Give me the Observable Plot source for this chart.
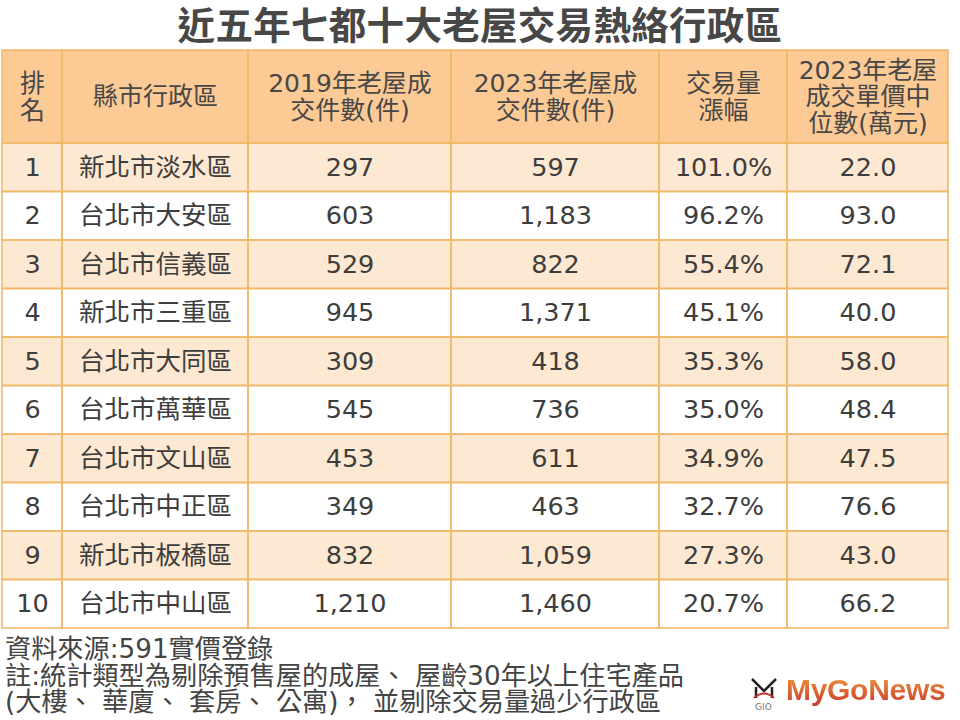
<!DOCTYPE html>
<html>
<head>
<meta charset="utf-8">
<script src="https://cdn.jsdelivr.net/npm/d3@7"></script>
<script src="https://cdn.jsdelivr.net/npm/@observablehq/plot@0.6"></script>
<style>
  html, body { margin: 0; padding: 0; background: #fff; width: 960px; height: 720px; overflow: hidden; }
  body { font-family: "DejaVu Sans", "Noto Sans CJK TC", sans-serif; position: relative; }
  #title { height: 47px; padding-top: 3px; text-align: center; font-size: 37.5px; font-weight: 700; color: #474747; letter-spacing: 0.3px; font-family: "Noto Sans CJK TC", sans-serif; line-height: 40px; }
  #title span { display: inline-block; height: 40px; line-height: 40px; }
  #chart svg { display: block; }
  #foot { margin-top: 6px; padding-left: 5px; font-size: 26.2px; line-height: 26.5px; color: #444; white-space: pre; }
  #logo { position: absolute; left: 786px; top: 673px; font-size: 30px; font-weight: 700; font-family: "Liberation Sans", sans-serif; letter-spacing: -0.3px;
          background: linear-gradient(#f0a040, #c8342a); -webkit-background-clip: text; background-clip: text; color: transparent; }
  #icon { position: absolute; left: 748px; top: 674px; }
</style>
</head>
<body>
<div id="title"><span>近五年七都十大老屋交易熱絡行政區</span></div>
<div id="chart"></div>
<div id="foot">資料來源:591實價登錄
註:統計類型為剔除預售屋的成屋、 屋齡30年以上住宅產品
(大樓、 華廈、 套房、 公寓)， 並剔除交易量過少行政區</div>
<div id="icon"><svg width="32" height="40" viewBox="0 0 32 40"><path d="M4 5 L16 17 L28 5 M8 13 L8 24 M24 13 L24 24" stroke="#222" stroke-width="2.5" fill="none"/><path d="M6 24 Q16 15 26 24" stroke="#c8342a" stroke-width="2" fill="none"/><text x="7" y="36" font-size="9" fill="#777" font-family="DejaVu Sans">GIO</text></svg></div>
<div id="logo">MyGoNews</div>
<script>
// ---- data ----
const headers = ["排\n名", "縣市行政區", "2019年老屋成\n交件數(件)", "2023年老屋成\n交件數(件)", "交易量\n漲幅", "2023年老屋\n成交單價中\n位數(萬元)"];
const ranks = [1, 2, 3, 4, 5, 6, 7, 8, 9, 10];
const districts = ["新北市淡水區", "台北市大安區", "台北市信義區", "新北市三重區", "台北市大同區", "台北市萬華區", "台北市文山區", "台北市中正區", "新北市板橋區", "台北市中山區"];
const count2019 = [297, 603, 529, 945, 309, 545, 453, 349, 832, 1210];
const count2023 = [597, 1183, 822, 1371, 418, 736, 611, 463, 1059, 1460];
const growth = [101.0, 96.2, 55.4, 45.1, 35.3, 35.0, 34.9, 32.7, 27.3, 20.7];
const medianPrice = [22.0, 93.0, 72.1, 40.0, 58.0, 48.4, 47.5, 76.6, 43.0, 66.2];

// ---- layout (table geometry in layout units) ----
const colWidths = [60, 186, 203, 208, 128, 161];
const headerH = 93, rowH = 48.5;

const colEdges = [0];
colWidths.forEach(w => colEdges.push(colEdges[colEdges.length - 1] + w));
const totalW = colEdges[colEdges.length - 1];
const totalH = headerH + rowH * ranks.length;

const fmtInt = d3.format(",");
const rowTexts = ranks.map((r, i) => [
  String(r), districts[i], fmtInt(count2019[i]), fmtInt(count2023[i]),
  growth[i].toFixed(1) + "%", medianPrice[i].toFixed(1)
]);

const cells = [];
headers.forEach((h, c) => cells.push({
  x1: colEdges[c], x2: colEdges[c + 1], y1: 0, y2: headerH, text: h, kind: "head"
}));
rowTexts.forEach((row, i) => row.forEach((t, c) => cells.push({
  x1: colEdges[c], x2: colEdges[c + 1],
  y1: headerH + i * rowH, y2: headerH + (i + 1) * rowH,
  text: t, kind: i % 2 === 0 ? "odd" : "even"
})));

const border = "#f2b86a";
const plot = Plot.plot({
  width: 960,
  height: 580,
  marginLeft: 2, marginRight: 12, marginTop: 0, marginBottom: 2,
  x: {domain: [0, totalW], axis: null},
  y: {domain: [0, totalH], range: [0, 578], axis: null},
  style: {fontFamily: "'DejaVu Sans', 'Noto Sans CJK TC', sans-serif", background: "transparent", overflow: "visible"},
  marks: [
    Plot.rect(cells.filter(d => d.kind === "head"), {x1: "x1", x2: "x2", y1: "y1", y2: "y2", fill: "#fcca95"}),
    Plot.rect(cells.filter(d => d.kind === "odd"), {x1: "x1", x2: "x2", y1: "y1", y2: "y2", fill: "#fde8d2"}),
    Plot.rect(cells.filter(d => d.kind === "even"), {x1: "x1", x2: "x2", y1: "y1", y2: "y2", fill: "#ffffff"}),
    Plot.rect(cells, {x1: "x1", x2: "x2", y1: "y1", y2: "y2", fill: "none", stroke: border, strokeWidth: 1.6}),
    Plot.text(cells.filter(d => d.kind === "head"), {
      x: d => (d.x1 + d.x2) / 2, y: d => (d.y1 + d.y2) / 2, text: "text",
      fontSize: 25, fill: "#474747", lineHeight: 1.06, lineAnchor: "middle"
    }),
    Plot.text(cells.filter(d => d.kind !== "head"), {
      x: d => (d.x1 + d.x2) / 2, y: d => (d.y1 + d.y2) / 2, text: "text",
      fontSize: 25.5, fill: "#3d3d3d", lineAnchor: "middle"
    })
  ]
});
document.getElementById("chart").appendChild(plot);
</script>
</body>
</html>
